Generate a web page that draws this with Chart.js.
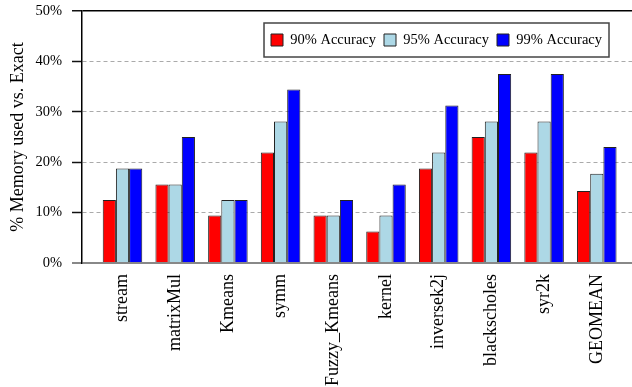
<!DOCTYPE html>
<html>
<head>
<meta charset="utf-8">
<script src="https://cdn.jsdelivr.net/npm/chart.js@4.4.0/dist/chart.umd.min.js"></script>
<style>
    body { margin: 0; background: #fff; }
    #wrap { width: 632px; height: 387px; }
</style>
</head>
<body>
<div id="wrap"><canvas id="barChart"></canvas></div>
<script>
// Data
const categories = ["stream", "matrixMul", "Kmeans", "symm", "Fuzzy_Kmeans", "kernel", "inversek2j", "blackscholes", "syr2k", "GEOMEAN"];
const acc90 = [12.5, 15.6, 9.4, 21.9, 9.4, 6.25, 18.75, 25, 21.9, 14.3];
const acc95 = [18.75, 15.6, 12.5, 28.1, 9.4, 9.4, 21.9, 28.1, 28.1, 17.7];
const acc99 = [18.75, 25, 12.5, 34.4, 12.5, 15.6, 31.25, 37.5, 37.5, 23.0];
const seriesLabels = ["90% Accuracy", "95% Accuracy", "99% Accuracy"];
const yTicks = [0, 10, 20, 30, 40, 50];

const COLORS = {
    red: "#ff0000",
    lightblue: "#add8e6",
    blue: "#0000ff",
    edge: "#222222",
};

Chart.defaults.font.family = "'Liberation Serif', 'Times New Roman', serif";
Chart.defaults.color = "#000";

// turn a value array into {x, y} points for the linear index axis
function toPoints(values) {
    return values.map((v, i) => ({ x: i, y: v }));
}

// Moves the legend into the plot area and draws a frame round it
const legendInside = {
    id: "legendInside",
    afterLayout(chart) {
        const lg = chart.legend;
        const area = chart.chartArea;
        const hb = lg.legendHitBoxes;
        if (!hb || !hb.length) return;
        const pad = lg.options.labels.padding;
        // last item ends at lg.right - pad, row centre at lg.top + pad + itemHeight / 2
        const dx = (area.right - 30) - (lg.right - pad);
        const dy = (area.top + 29) - (lg.top + pad + hb[0].height / 2);
        lg.left += dx; lg.right += dx;
        lg.top += dy; lg.bottom += dy;
    },
    afterDraw(chart) {
        const hb = chart.legend.legendHitBoxes;
        if (!hb || !hb.length) return;
        const last = hb[hb.length - 1];
        const cy = hb[0].top + hb[0].height / 2;
        const x0 = hb[0].left - 7;
        const x1 = last.left + last.width + 7;
        const ctx = chart.ctx;
        ctx.save();
        ctx.strokeStyle = "#444";
        ctx.lineWidth = 1.5;
        ctx.strokeRect(x0, cy - 17, x1 - x0, 34);
        ctx.restore();
    },
};

const chart = new Chart(document.getElementById("barChart"), {
    type: "bar",
    data: {
        datasets: [
            { label: seriesLabels[0], data: toPoints(acc90), backgroundColor: COLORS.red, borderColor: COLORS.edge, borderWidth: 1 },
            { label: seriesLabels[1], data: toPoints(acc95), backgroundColor: COLORS.lightblue, borderColor: COLORS.edge, borderWidth: 1 },
            { label: seriesLabels[2], data: toPoints(acc99), backgroundColor: COLORS.blue, borderColor: COLORS.edge, borderWidth: 1 },
        ],
    },
    options: {
        responsive: true,
        maintainAspectRatio: false,
        animation: false,
        layout: { padding: { top: -21.5, left: 0, right: 0, bottom: 0 } },
        datasets: {
            bar: { categoryPercentage: 0.75, barPercentage: 1 },
        },
        plugins: {
            tooltip: { enabled: false },
            legend: {
                position: "top",
                align: "end",
                labels: {
                    boxWidth: 12,
                    boxHeight: 12,
                    padding: 8,
                    font: { size: 14.5 },
                    color: "#000",
                },
            },
        },
        scales: {
            x: {
                type: "linear",
                offset: false,
                min: -0.7685,
                max: 9.668,
                afterBuildTicks: (scale) => {
                    scale.ticks = categories.map((c, i) => ({ value: i }));
                },
                afterFit: (scale) => {
                    scale.height = 124;
                },
                ticks: {
                    callback: (v) => categories[v],
                    minRotation: 90,
                    maxRotation: 90,
                    autoSkip: false,
                    padding: 11,
                    font: { size: 18 },
                },
                grid: { display: false, drawTicks: false, offset: false },
                border: { display: false },
            },
            y: {
                min: 0,
                max: 50,
                afterBuildTicks: (scale) => {
                    scale.ticks = yTicks.map((v) => ({ value: v }));
                },
                afterFit: (scale) => {
                    scale.width = 82;
                    scale.paddingTop = 0;
                    scale.paddingBottom = 0;
                },
                ticks: {
                    callback: (v) => v + "%",
                    padding: 10,
                    font: { size: 14.5 },
                },
                grid: {
                    color: (ctx) => ctx.tick.value === 50 ? "#000" : (ctx.tick.value === 0 ? "#888" : "#aaa"),
                    lineWidth: (ctx) => ctx.tick.value === 50 ? 1.5 : (ctx.tick.value === 0 ? 2 : 1),
                    tickLength: 10,
                    tickWidth: (ctx) => ctx.tick.value === 0 ? 2 : 1.5,
                    tickColor: (ctx) => ctx.tick.value === 0 ? "#888" : "#111",
                },
                border: {
                    display: true,
                    color: "#000",
                    width: 1.5,
                    dash: (ctx) => (ctx.tick && (ctx.tick.value === 0 || ctx.tick.value === 50)) ? [] : [4, 3],
                },
                title: {
                    display: true,
                    text: "% Memory used vs. Exact",
                    font: { size: 18 },
                    padding: { top: 7, bottom: 0 },
                },
            },
        },
    },
    plugins: [legendInside],
});
</script>
</body>
</html>
